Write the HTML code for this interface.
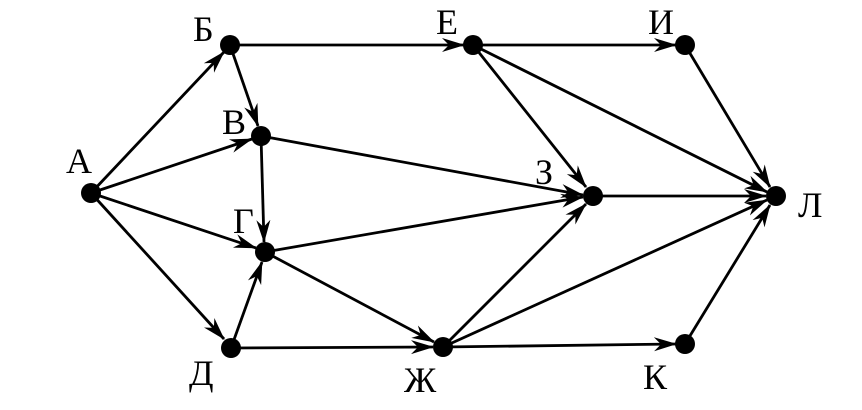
<!DOCTYPE html>
<html><head><meta charset="utf-8"><style>
html,body{margin:0;padding:0;background:#fff;width:862px;height:410px;overflow:hidden}
</style></head><body>
<svg width="862" height="410" viewBox="0 0 862 410">
<defs>
<marker id="a" markerWidth="26" markerHeight="16" refX="22" refY="8" orient="auto" markerUnits="userSpaceOnUse">
<path d="M0,1 L23,8 L0,15 L7,8 Z" fill="#000"/>
</marker>
</defs>
<g stroke="#000" stroke-width="2.8" fill="none" marker-end="url(#a)">
<line x1="91" y1="193" x2="224" y2="52"/>
<line x1="91" y1="193" x2="252" y2="139"/>
<line x1="91" y1="193" x2="256" y2="248"/>
<line x1="91" y1="193" x2="224" y2="339"/>
<line x1="230" y1="45" x2="464" y2="45"/>
<line x1="230" y1="45" x2="258" y2="126"/>
<line x1="261" y1="136" x2="264" y2="242"/>
<line x1="261" y1="136" x2="583" y2="195"/>
<line x1="231" y1="348" x2="262" y2="262"/>
<line x1="265" y1="252" x2="583" y2="197"/>
<line x1="265" y1="252" x2="434" y2="342"/>
<line x1="231" y1="348" x2="433" y2="347"/>
<line x1="473" y1="45" x2="676" y2="45"/>
<line x1="473" y1="45" x2="586" y2="187"/>
<line x1="473" y1="45" x2="767" y2="192"/>
<line x1="685" y1="45" x2="770" y2="187"/>
<line x1="593" y1="196" x2="766" y2="196"/>
<line x1="443" y1="347" x2="586" y2="204"/>
<line x1="443" y1="347" x2="767" y2="200"/>
<line x1="443" y1="347" x2="676" y2="344"/>
<line x1="685" y1="344" x2="770" y2="205"/>
</g>
<g fill="#000">
<circle cx="91" cy="193" r="10"/>
<circle cx="230" cy="45" r="10"/>
<circle cx="261" cy="136" r="10"/>
<circle cx="265" cy="252" r="10"/>
<circle cx="231" cy="348" r="10"/>
<circle cx="473" cy="45" r="10"/>
<circle cx="685" cy="45" r="10"/>
<circle cx="593" cy="196" r="10"/>
<circle cx="443" cy="347" r="10"/>
<circle cx="685" cy="344" r="10"/>
<circle cx="776" cy="196" r="10"/>
</g>
<g font-family="Liberation Serif, DejaVu Serif, serif" font-size="36" fill="#000">
<text x="66" y="173">А</text>
<text x="193" y="41">Б</text>
<text x="222" y="134">В</text>
<text x="233" y="233">Г</text>
<text x="189" y="385">Д</text>
<text x="436" y="34">Е</text>
<text x="648" y="34">И</text>
<text x="535" y="184">З</text>
<text x="404" y="392">Ж</text>
<text x="643" y="389">К</text>
<text x="798" y="217">Л</text>
</g>
</svg>
</body></html>
